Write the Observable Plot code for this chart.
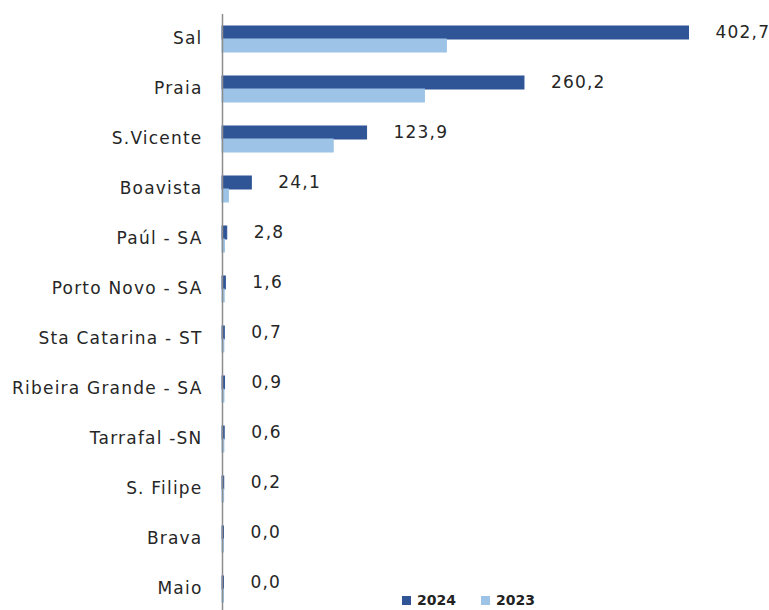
<!DOCTYPE html>
<html>
<head>
<meta charset="utf-8">
<script src="https://cdn.jsdelivr.net/npm/d3@7"></script>
<script src="https://cdn.jsdelivr.net/npm/@observablehq/plot@0.6"></script>
<style>
  html, body { margin: 0; padding: 0; background: #fff; }
  #wrap { position: relative; width: 769px; height: 610px; font-family: "DejaVu Sans", sans-serif; }
  #legend { position: absolute; left: 402px; top: 592px; display: flex; align-items: center; font-size: 14px; font-weight: bold; color: #222; font-family: "DejaVu Sans", sans-serif; }
  #legend .sw { display: inline-block; width: 9px; height: 9px; margin-right: 6px; }
  #legend .item { display: flex; align-items: center; margin-right: 25px; }
</style>
</head>
<body>
<div id="wrap">
  <div id="chart"></div>
  <div id="legend"></div>
</div>
<script>
const categories = ["Sal", "Praia", "S.Vicente", "Boavista", "Paúl - SA", "Porto Novo - SA", "Sta Catarina - ST", "Ribeira Grande - SA", "Tarrafal -SN", "S. Filipe", "Brava", "Maio"];
const values2024 = [402.7, 260.2, 123.9, 24.1, 2.8, 1.6, 0.7, 0.9, 0.6, 0.2, 0.0, 0.0];
const values2023 = [193.0, 174.0, 95.0, 4.2, 0.8, 0.6, 0.3, 0.4, 0.3, 0.1, 0.0, 0.0];
const series = ["2024", "2023"];
const colors = ["#2F5597", "#9DC3E6"];

const rows = [];
categories.forEach((c, i) => {
  rows.push({region: c, year: "2024", value: values2024[i]});
  rows.push({region: c, year: "2023", value: values2023[i]});
});
const fmt = v => d3.format(".1f")(v).replace(".", ",");

const chart = Plot.plot({
  width: 769,
  height: 610,
  marginLeft: 222,
  marginRight: 0,
  marginTop: 12,
  marginBottom: 0,
  style: {fontFamily: "'DejaVu Sans', sans-serif", fontSize: "17px", color: "#262626", background: "#fff", letterSpacing: "1.2px"},
  x: {domain: [0, 473.7], axis: null},
  fy: {domain: categories, range: [12, 615], padding: 0, label: null},
  y: {domain: series, axis: null, paddingInner: 0, paddingOuter: 0.8},
  color: {domain: series, range: colors},
  marks: [
    Plot.axisFy({anchor: "left", tickSize: 0, tickPadding: 20, label: null, dy: -1, fontSize: 17}),
    Plot.barX(rows, {x: "value", y: "year", fy: "region", fill: "year", stroke: "year", strokeWidth: 1, insetRight: -1.5}),
    Plot.ruleX([0], {stroke: "#8c8c8c", strokeWidth: 1.5}),
    Plot.text(rows.filter(d => d.year === "2024"), {x: "value", y: "year", fy: "region", text: d => fmt(d.value), textAnchor: "start", dx: 28, dy: 0, fontSize: 17, fill: "#262626"})
  ]
});
document.getElementById("chart").appendChild(chart);

const legend = document.getElementById("legend");
series.forEach((s, i) => {
  const item = document.createElement("span");
  item.className = "item";
  const sw = document.createElement("span");
  sw.className = "sw";
  sw.style.background = colors[i];
  item.appendChild(sw);
  item.appendChild(document.createTextNode(s));
  legend.appendChild(item);
});
</script>
</body>
</html>
